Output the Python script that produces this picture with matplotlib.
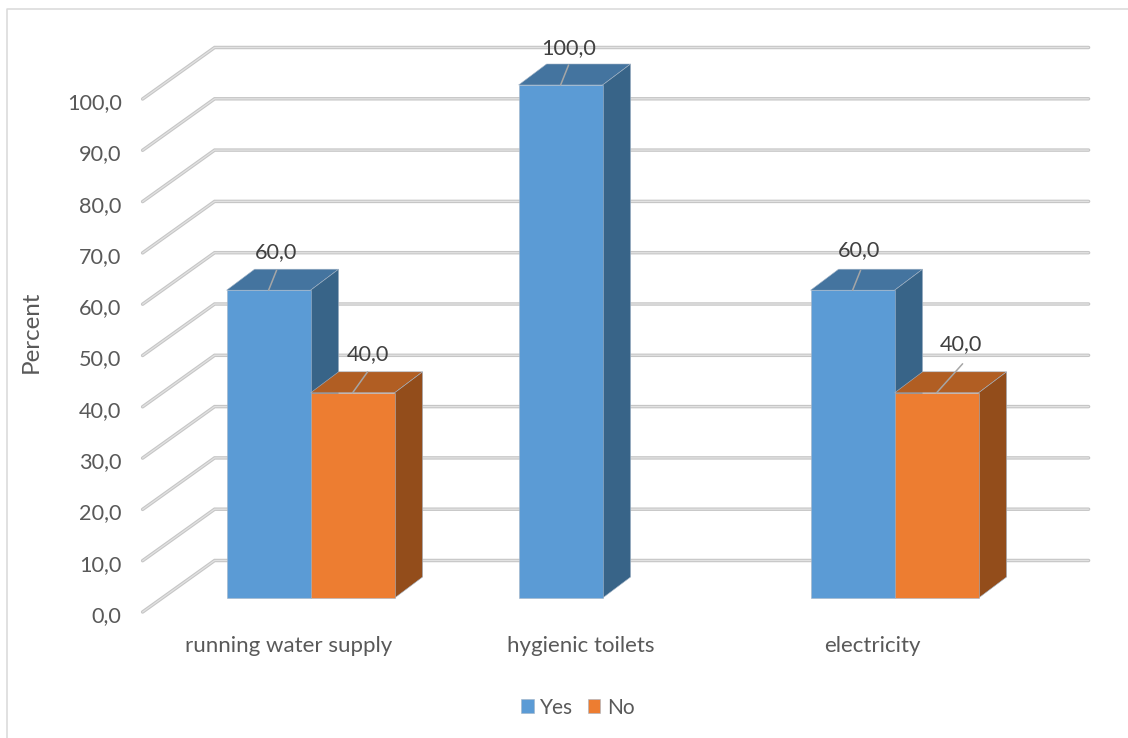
import matplotlib
matplotlib.use('Agg')
import matplotlib.pyplot as plt
from matplotlib.lines import Line2D
from matplotlib.patches import Polygon

plt.rcParams['font.family'] = ['Lato', 'DejaVu Sans']

categories = ['running water supply', 'hygienic toilets', 'electricity']
yes = [60, 100, 60]
no = [40, 0, 40]
ticks = list(range(0, 101, 10))

# one category is 292 px wide, one percent is 5.13 px high
sx = 292.0
sy = 5.13
bar_w = 84 / sx
depth_x = 28 / sx
depth_y = 21 / sy

# oblique wall, relative to the plane of the bar fronts
wall_front_x = -168 / sx
wall_front_y = -14 / sy
wall_back_x = -96 / sx
wall_back_y = 37.5 / sy
wall_end_x = 778 / sx

c_yes = ['#5b9bd5', '#44749f', '#386488']
c_no = ['#ed7d31', '#b15e23', '#934d1b']
edge = '#a3b4c6'
fs = 15.6

fig = plt.figure(figsize=(11.28, 7.38), dpi=100)
ax = fig.add_axes([0, 0, 1, 1])
ax.set_xlim(-310.6 / sx, (1128 - 310.6) / sx)
ax.set_ylim((598 - 738) / sy, 598 / sy)
ax.axis('off')

# chart frame, open on the right and at the bottom
fig.add_artist(Line2D([7 / 1128, 7 / 1128, 1], [0, 1 - 9 / 738, 1 - 9 / 738],
                      color='#d9d9d9', lw=1.1))

for t in ticks:
    xs = [wall_front_x, wall_back_x, wall_end_x]
    ys = [t + wall_front_y, t + wall_back_y, t + wall_back_y]
    ax.plot(xs, ys, color='#c6c6c6', lw=2.5, solid_capstyle='round',
            solid_joinstyle='miter', zorder=1)
    ax.plot(xs, ys, color='#e2e2e2', lw=0.9, solid_capstyle='round',
            solid_joinstyle='miter', zorder=1)
    ax.annotate(f'{t:.1f}'.replace('.', ','), (wall_front_x, t), xytext=(-21, -18),
                textcoords='offset pixels', ha='right', va='center',
                fontsize=fs, color='#595959')


def bar3d(left, value, colors, z):
    right = left + bar_w
    top = [(left, value), (left + depth_x, value + depth_y),
           (right + depth_x, value + depth_y), (right, value)]
    side = [(right, 0), (right + depth_x, depth_y),
            (right + depth_x, value + depth_y), (right, value)]
    ax.add_patch(Polygon(top, closed=True, fc=colors[1], ec=edge, lw=0.4, zorder=z))
    ax.add_patch(Polygon(side, closed=True, fc=colors[2], ec=edge, lw=0.4, zorder=z))


h_yes = None
h_no = None
for i in range(len(categories)):
    bar3d(i - bar_w, yes[i], c_yes, 2)
    h_yes = ax.bar(i - bar_w / 2, yes[i], bar_w, color=c_yes[0], edgecolor=edge,
                   lw=0.4, zorder=3, label='Yes')
    if no[i] > 0:
        bar3d(i, no[i], c_no, 4)
        h_no = ax.bar(i + bar_w / 2, no[i], bar_w, color=c_no[0], edgecolor=edge,
                      lw=0.4, zorder=5, label='No')

# value labels with their leader lines, offsets in pixels from the bar top
labels = [
    (0 - bar_w / 2, yes[0], (8, 20), (7, 38)),
    (0 + bar_w / 2, no[0], (15, 21), (15, 39)),
    (1 - bar_w / 2, yes[1], (8, 20), (8, 37)),
    (2 - bar_w / 2, yes[2], (8, 20), (6, 40)),
    (2 + bar_w / 2, no[2], (26, 29), (24, 49)),
]
for x, v, lead, off in labels:
    ax.annotate('', (x, v), xytext=lead, textcoords='offset pixels',
                arrowprops=dict(arrowstyle='-', color='#a6a6a6', lw=1.1,
                                shrinkA=0, shrinkB=0), zorder=7)
    ax.annotate(f'{v:.1f}'.replace('.', ','), (x, v), xytext=off,
                textcoords='offset pixels', ha='center', va='center',
                fontsize=fs, color='#404040', zorder=8)

for i, name in enumerate(categories):
    ax.annotate(name, (i, 0), xytext=(-22, -48), textcoords='offset pixels',
                ha='center', va='center', fontsize=fs + 0.4, color='#595959')

ax.text(-279 / sx, (598 - 332) / sy, 'Percent', rotation=90, ha='center',
        va='center', fontsize=17.4, color='#595959')

fig.legend(handles=[h_yes, h_no], labels=['Yes', 'No'], ncol=2, frameon=False,
           loc='center', bbox_to_anchor=(577.5 / 1128, 1 - 707.5 / 738),
           fontsize=15, labelcolor='#595959', handlelength=0.62, handleheight=0.62,
           handletextpad=0.3, columnspacing=0.7)

fig.savefig('out.png', dpi=100)
